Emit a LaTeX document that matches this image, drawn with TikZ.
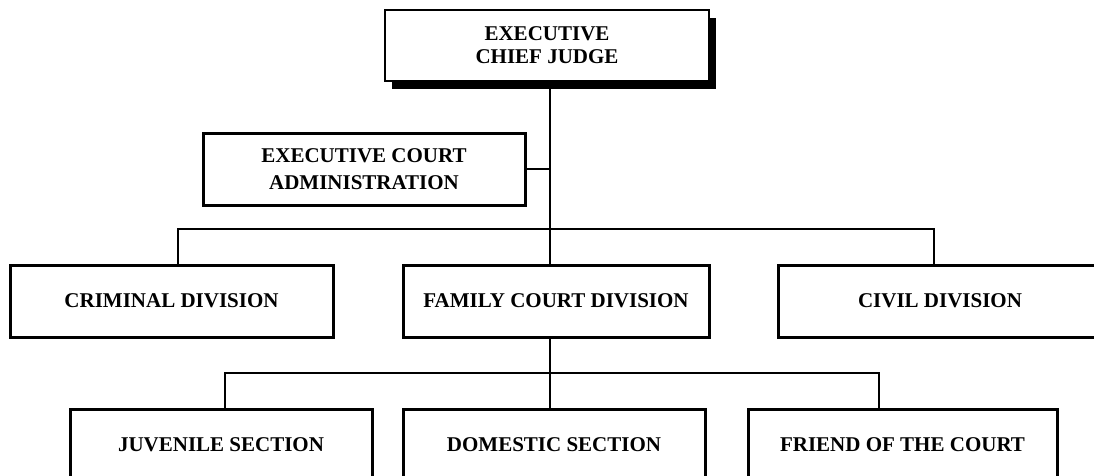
\documentclass[tikz,border=0pt]{standalone}
\usepackage{fontspec}
\setmainfont{Liberation Serif}
\usetikzlibrary{shadows}
\begin{document}
\begin{tikzpicture}[x=1pt,y=-1pt,
  orgbox/.style={draw=black, line width=3pt, fill=white, inner sep=0pt,
    font=\bfseries\fontsize{21}{23}\selectfont, align=center},
  link/.style={line width=2.7pt}]
\useasboundingbox (0,0) rectangle (1094,475);
\clip (0,0) rectangle (1094,475);

% top of the hierarchy, with a solid drop shadow
\node[orgbox, line width=2.4pt, minimum width=324pt, minimum height=71pt,
  drop shadow={shadow xshift=7pt, shadow yshift=-8pt, fill=black, opacity=1}]
  (chief) at (547,45.5) {EXECUTIVE\\CHIEF JUDGE};

% staff office beside the main line
\node[orgbox, minimum width=322pt, minimum height=72pt,
  font=\bfseries\fontsize{21}{27}\selectfont]
  (admin) at (364,169) {EXECUTIVE COURT\\ADMINISTRATION};

% divisions
\node[orgbox, minimum width=323pt, minimum height=72pt] (crim) at (171.5,301) {CRIMINAL DIVISION};
\node[orgbox, minimum width=306pt, minimum height=72pt] (fam)  at (556,301) {FAMILY COURT DIVISION};
\node[orgbox, minimum width=324pt, minimum height=72pt] (civ)  at (940,301) {CIVIL DIVISION};

% sections of the family court
\node[orgbox, minimum width=302pt, minimum height=72pt] (juv) at (221,445) {JUVENILE SECTION};
\node[orgbox, minimum width=302pt, minimum height=72pt] (dom) at (554,445) {DOMESTIC SECTION};
\node[orgbox, minimum width=309pt, minimum height=72pt] (fri) at (902.5,445) {FRIEND OF THE COURT};

% bus bars
\coordinate (spine) at (550,0);
\coordinate (busL) at (178,229);
\coordinate (busR) at (934,229);
\coordinate (subL) at (225,373);
\coordinate (subR) at (879,373);

% connectors
\draw[link] (chief.south -| spine) -- (fam.north -| spine);
\draw[link] (admin.east) -- (admin.east -| spine);
\draw[link] (crim.north -| busL) -- (busL) -- (busR) -- (civ.north -| busR);
\draw[link] (fam.south -| spine) -- (dom.north -| spine);
\draw[link] (juv.north -| subL) -- (subL) -- (subR) -- (fri.north -| subR);
\end{tikzpicture}
\end{document}
